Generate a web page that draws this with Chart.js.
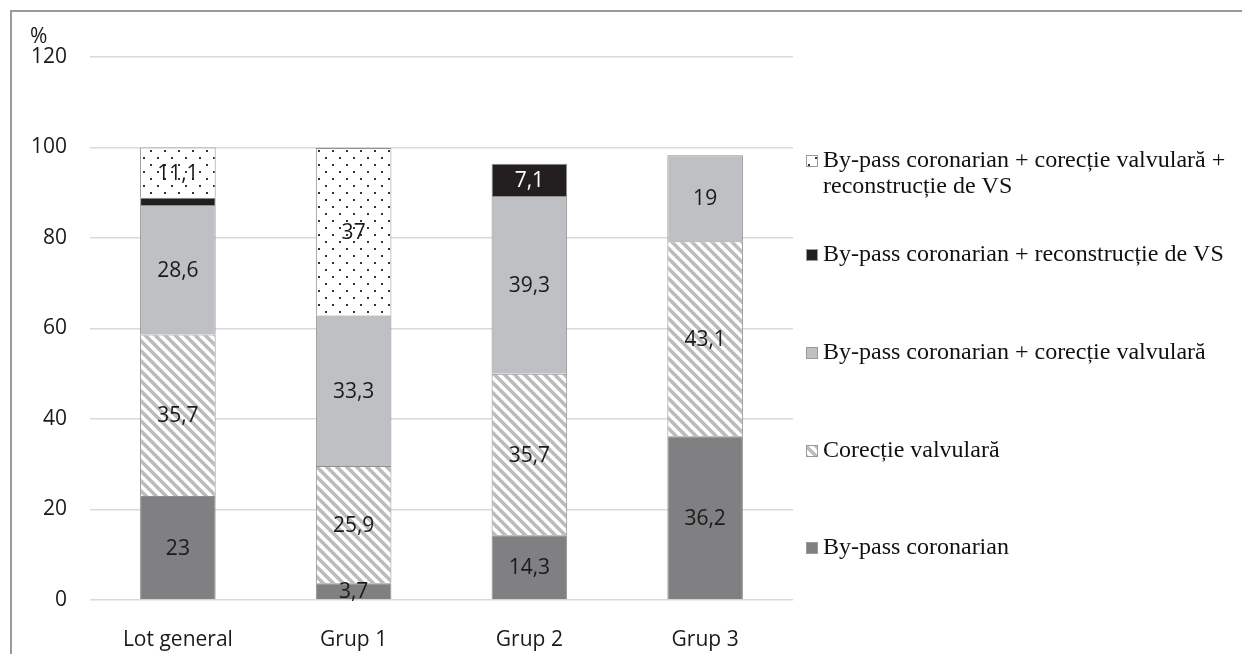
<!DOCTYPE html>
<html>
<head>
<meta charset="utf-8">
<script src="https://cdn.jsdelivr.net/npm/chart.js@4.4.1/dist/chart.umd.min.js"></script>
<style>
  html, body { margin: 0; padding: 0; background: #fff; }
  canvas { display: block; }
</style>
</head>
<body>
<canvas id="chart" width="1242" height="654"></canvas>
<script>
// date
const categories = ["Lot general", "Grup 1", "Grup 2", "Grup 3"];
const byPass = [23, 3.7, 14.3, 36.2];
const corectie = [35.7, 25.9, 35.7, 43.1];
const byPassCorectie = [28.6, 33.3, 39.3, 19];
const byPassReconstr = [1.6, 0, 7.1, 0];
const byPassCorectieReconstr = [11.1, 37, 0, 0];
const yTicks = [0, 20, 40, 60, 80, 100, 120];

const seriesNames = [
  "By-pass coronarian",
  "Corecție valvulară",
  "By-pass coronarian + corecție valvulară",
  "By-pass coronarian + reconstrucție de VS",
  "By-pass coronarian + corecție valvulară + reconstrucție de VS"
];

// modele de umplere
function hatchPattern() {
  const c = document.createElement("canvas");
  c.width = 10; c.height = 10;
  const g = c.getContext("2d");
  g.fillStyle = "#fff";
  g.fillRect(0, 0, 10, 10);
  g.strokeStyle = "#bcbcbc";
  g.lineWidth = 3.6;
  g.beginPath();
  g.moveTo(-5, -5); g.lineTo(15, 15);
  g.moveTo(-5, 5); g.lineTo(5, 15);
  g.moveTo(5, -5); g.lineTo(15, 5);
  g.stroke();
  return g.createPattern(c, "repeat");
}

function dotPattern() {
  const c = document.createElement("canvas");
  c.width = 14; c.height = 14;
  const g = c.getContext("2d");
  g.fillStyle = "#fff";
  g.fillRect(0, 0, 14, 14);
  g.fillStyle = "#333";
  g.fillRect(3, 3, 2, 2);
  g.fillRect(10, 10, 2, 2);
  return g.createPattern(c, "repeat");
}

const fills = ["#808083", hatchPattern(), "#bfc0c3", "#231f20", dotPattern()];
const seriesData = [byPass, corectie, byPassCorectie, byPassReconstr, byPassCorectieReconstr];

const fontLabel = "21px 'Open Sans'";

// etichete pe segmente
const segmentLabels = {
  id: "segmentLabels",
  afterDatasetsDraw(chart) {
    const ctx = chart.ctx;
    ctx.save();
    ctx.font = fontLabel;
    ctx.textAlign = "center";
    ctx.textBaseline = "middle";
    chart.data.datasets.forEach((ds, i) => {
      const meta = chart.getDatasetMeta(i);
      meta.data.forEach((bar, j) => {
        const v = ds.data[j];
        if (!v || v < 2) return;
        ctx.fillStyle = i === 3 ? "#fff" : "#1a1a1a";
        ctx.fillText(String(v).replace(".", ","), bar.x, (bar.y + bar.base) / 2 + 1);
      });
    });
    ctx.restore();
  }
};

// legenda, rama si simbolul %
const extras = {
  id: "extras",
  afterDraw(chart) {
    const ctx = chart.ctx;
    ctx.save();
    // rama
    ctx.strokeStyle = "#9a9a9a";
    ctx.lineWidth = 2;
    ctx.beginPath();
    ctx.moveTo(11, 654);
    ctx.lineTo(11, 11);
    ctx.lineTo(1242, 11);
    ctx.stroke();

    // %
    ctx.font = fontLabel;
    ctx.fillStyle = "#1a1a1a";
    ctx.textAlign = "left";
    ctx.textBaseline = "middle";
    ctx.fillText("%", 30, 37);

    // legenda
    const lx = 806;
    const items = [
      { i: 4, y: 161, lines: ["By-pass coronarian + corecție valvulară +", "reconstrucție de VS"] },
      { i: 3, y: 255, lines: [seriesNames[3]] },
      { i: 2, y: 353, lines: [seriesNames[2]] },
      { i: 1, y: 451, lines: [seriesNames[1]] },
      { i: 0, y: 548, lines: [seriesNames[0]] }
    ];
    ctx.font = "24px 'Liberation Serif'";
    items.forEach(it => {
      ctx.fillStyle = fills[it.i];
      ctx.fillRect(lx, it.y - 6, 12, 12);
      ctx.strokeStyle = "#9a9a9a";
      ctx.lineWidth = 1;
      ctx.strokeRect(lx + 0.5, it.y - 5.5, 11, 11);
      ctx.fillStyle = "#111";
      it.lines.forEach((t, k) => ctx.fillText(t, lx + 17, it.y + k * 26));
    });
    ctx.restore();
  }
};

const chart = new Chart(document.getElementById("chart"), {
  type: "bar",
  data: {
    labels: categories,
    datasets: seriesData.map((d, i) => ({
      label: seriesNames[i],
      data: d,
      backgroundColor: fills[i],
      borderColor: "#8f8f8f",
      borderWidth: c => (c.raw ? 1 : 0),
      categoryPercentage: 1,
      barPercentage: 0.43
    }))
  },
  options: {
    responsive: false,
    animation: false,
    layout: { padding: { left: 0, top: 57, right: 449, bottom: 0 } },
    plugins: {
      legend: { display: false },
      tooltip: { enabled: false }
    },
    scales: {
      x: {
        stacked: true,
        grid: { display: false },
        border: { display: false },
        ticks: { color: "#1a1a1a", font: { family: "'Open Sans'", size: 21 }, padding: 19 },
        afterFit: s => { s.height = 54; }
      },
      y: {
        stacked: true,
        min: 0,
        max: 120,
        afterBuildTicks: s => { s.ticks = yTicks.map(v => ({ value: v })); },
        grid: { color: "#d9d9d9", lineWidth: 1.5, drawTicks: false },
        border: { display: false },
        ticks: { color: "#1a1a1a", font: { family: "'Open Sans'", size: 21 }, padding: 23 },
        afterFit: s => { s.width = 90; }
      }
    }
  },
  plugins: [segmentLabels, extras]
});
</script>
</body>
</html>
